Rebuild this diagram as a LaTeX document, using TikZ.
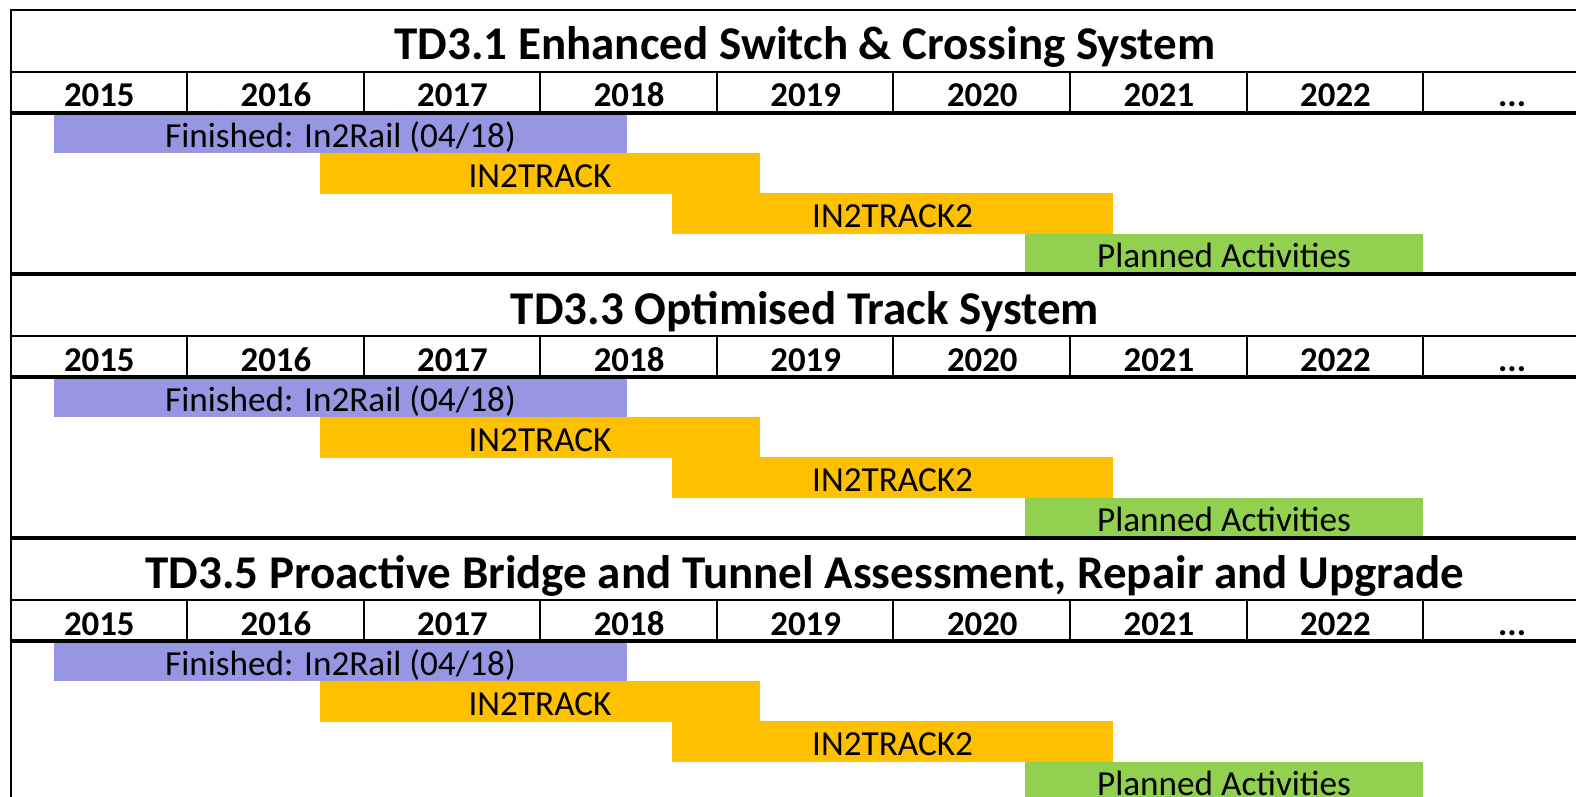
\documentclass[tikz,border=0pt]{standalone}
\usepackage{fontspec}
\setmainfont{Carlito}
\definecolor{purplebar}{RGB}{150,150,226}
\definecolor{orangebar}{RGB}{255,192,0}
\definecolor{greenbar}{RGB}{146,208,80}
\begin{document}
\begin{tikzpicture}[x=0.5pt,y=-0.5pt,
  thinline/.style={line width=1pt},
  thickline/.style={line width=1.7pt},
  titletext/.style={font=\bfseries\fontsize{23.5}{28}\selectfont, inner sep=0pt, anchor=base},
  yeartext/.style={font=\bfseries\fontsize{17.4}{20}\selectfont, inner sep=0pt, anchor=base},
  ganttbar/.style={inner sep=0pt, outer sep=0pt, minimum height=20.125pt, text height=14pt, text depth=0pt, font=\fontsize{17.6}{21}\selectfont},
]
\useasboundingbox (0,0) rectangle (1576,797);
\clip (0,0) rectangle (1576,797);
\foreach \s/\yo/\ttl in {a/10/{TD3.1 Enhanced Switch \& Crossing System},
                         b/274/{TD3.3 Optimised Track System},
                         c/538/{TD3.5 Proactive Bridge and Tunnel Assessment, Repair and Upgrade}} {
  % bars
  \node[ganttbar, fill=purplebar, minimum width=286.5pt] (\s-in2rail) at (340.5,\yo+123.1) {Finished: In2Rail (04/18)};
  \node[ganttbar, fill=orangebar, minimum width=220pt] (\s-in2track) at (540,\yo+163.4) {IN2TRACK};
  \node[ganttbar, fill=orangebar, minimum width=220.5pt] (\s-in2track2) at (892.5,\yo+203.6) {IN2TRACK2};
  \node[ganttbar, fill=greenbar, minimum width=199pt] (\s-planned) at (1224,\yo+243.9) {Planned Activities};
  % title
  \node[titletext] (\s-title) at (805,\yo+50) {\ttl};
  % years
  \foreach \i/\yr in {0/2015,1/2016,2/2017,3/2018,4/2019,5/2020,6/2021,7/2022,8/{...}}
    \node[yeartext] (\s-y\i) at (99.3+176.6*\i,\yo+97) {\yr};
  % grid lines
  \draw[thinline] (11,\yo+62) -- (1600,\yo+62);
  \draw[thickline] (11,\yo+103) -- (1600,\yo+103);
  \foreach \k in {0,...,7}
    \draw[thinline] (187+176.6*\k,\yo+62) -- (187+176.6*\k,\yo+103);
}
\draw[thickline] (11,274) -- (1600,274);
\draw[thickline] (11,538) -- (1600,538);
\draw[thinline] (11,820) -- (11,10) -- (1600,10);
\end{tikzpicture}
\end{document}
